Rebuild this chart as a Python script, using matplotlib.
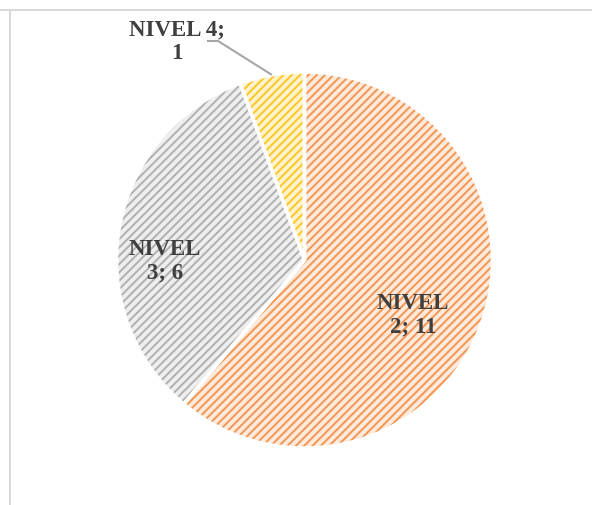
import matplotlib
matplotlib.use("Agg")
import matplotlib.pyplot as plt
from matplotlib.lines import Line2D
import numpy as np

# Level distribution
categories = ["NIVEL 2", "NIVEL 3", "NIVEL 4"]
values = [11, 6, 1]

fill_colors = ["#FDEADB", "#EEEEEE", "#FFF3CC"]
hatch_colors = ["#F29654", "#B0B0B0", "#FFC62A"]

plt.rcParams["hatch.linewidth"] = 1.4

W, H = 592, 506
fig = plt.figure(figsize=(W / 100, H / 100), dpi=100)
fig.patch.set_facecolor("white")

# pie placement (pixels): center and radius
cx, cy, r = 304.5, 261.0, 188.0
ax = fig.add_axes([(cx - r) / W, (H - cy - r) / H, 2 * r / W, 2 * r / H])

common = dict(startangle=90, counterclock=False, radius=1.0)

# base fill
ax.pie(values, colors=fill_colors, wedgeprops=dict(linewidth=0), **common)
# hatch overlay
wedges, _ = ax.pie(values, wedgeprops=dict(linewidth=0, fill=False), **common)
for w, hc in zip(wedges, hatch_colors):
    w.set_hatch("////")
    w.set_edgecolor(hc)
# white separators
ax.pie(values, wedgeprops=dict(linewidth=2.5, edgecolor="white", fill=False), **common)

ax.set_xlim(-1, 1)
ax.set_ylim(-1, 1)
ax.set_aspect("equal")
ax.axis("off")

font = dict(family=["Liberation Serif", "DejaVu Serif"], fontweight="bold",
            fontsize=16.5, color="#3F3F3F", ha="center", va="center",
            linespacing=1.15)

ax.text(0.577, -0.29, "NIVEL\n2; 11", **font)
ax.text(-0.742, 0.0, "NIVEL\n3; 6", **font)
ax.text(-0.678, 1.165, "NIVEL 4;\n1", clip_on=False, **font)

# leader line to the small slice
total = sum(values)
start = 90 - 360 * sum(values[:2]) / total
mid = np.deg2rad(start - 360 * values[2] / total / 2)
ex, ey = np.cos(mid), np.sin(mid)
ax.plot([-0.519, -0.460, ex], [1.165, 1.165, ey], color="#A6A6A6",
        linewidth=1.5, clip_on=False, solid_capstyle="butt")

# chart area border (top and left edges visible)
fig.add_artist(Line2D([0, 1], [1 - 11 / H, 1 - 11 / H], color="#D9D9D9",
                      linewidth=1.5, transform=fig.transFigure))
fig.add_artist(Line2D([10 / W, 10 / W], [0, 1 - 11 / H], color="#D9D9D9",
                      linewidth=1.5, transform=fig.transFigure))

fig.savefig("out.png", dpi=100, facecolor="white")
